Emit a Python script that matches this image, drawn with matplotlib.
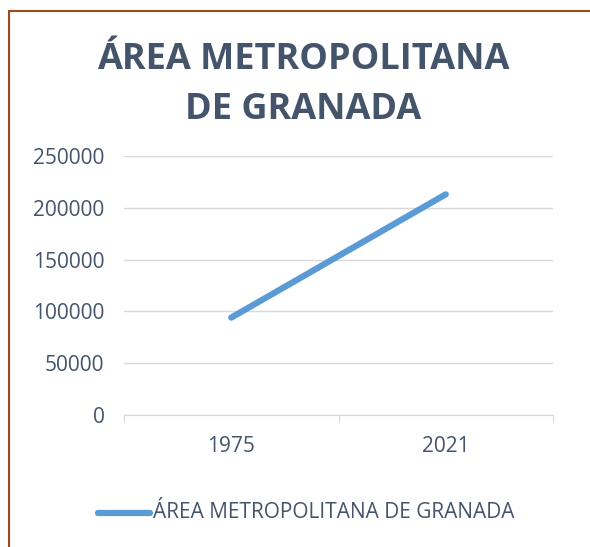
import matplotlib
matplotlib.use("Agg")
import matplotlib.pyplot as plt
from matplotlib.patches import Rectangle
from matplotlib.lines import Line2D

YEARS = ["1975", "2021"]
POPULATION = [94000, 213000]
SERIES_NAME = "ÁREA METROPOLITANA DE GRANADA"
TITLE = "ÁREA METROPOLITANA\nDE GRANADA"
Y_TICKS = [0, 50000, 100000, 150000, 200000, 250000]

TEXT_COLOR = "#44546A"

plt.rcParams["font.family"] = ["Open Sans", "DejaVu Sans"]

fig = plt.figure(figsize=(5.9, 5.47), dpi=100)
ax = fig.add_axes([124 / 590, 1 - 415 / 547, (553 - 124) / 590, (415 - 156) / 547])

x = [0.5, 1.5]
ax.plot(x, POPULATION, color="#5B9BD5", linewidth=4.5, solid_capstyle="round")

ax.set_xlim(0, 2)
ax.set_ylim(0, 250000)
ax.set_yticks(Y_TICKS)
ax.set_yticklabels([str(v) for v in Y_TICKS])
ax.yaxis.grid(True, color="#D9D9D9", linewidth=1)
ax.set_axisbelow(True)

# category axis: ticks on the boundaries, labels in the middle
ax.set_xticks([0, 1, 2])
ax.set_xticklabels([])
ax.set_xticks(x, minor=True)
ax.set_xticklabels(YEARS, minor=True)
ax.tick_params(axis="x", which="major", length=5, color="#D9D9D9", direction="out")
ax.tick_params(axis="x", which="minor", length=0, pad=15, labelsize=15, labelcolor=TEXT_COLOR)
ax.tick_params(axis="y", length=0, pad=14, labelsize=15, labelcolor=TEXT_COLOR)

for side in ["top", "right", "left"]:
    ax.spines[side].set_visible(False)
ax.spines["bottom"].set_color("#D9D9D9")

fig.text(303 / 590, 1 - 85 / 547, TITLE, ha="center", va="center",
         fontsize=26, fontweight="bold", color=TEXT_COLOR, linespacing=1.5)

# legend drawn by hand below the plot
leg_y = 1 - 513 / 547
fig.add_artist(Line2D([98 / 590, 150 / 590], [leg_y, leg_y], color="#5B9BD5",
                      linewidth=4.5, solid_capstyle="round"))
fig.text(153 / 590, leg_y, SERIES_NAME, ha="left", va="center",
         fontsize=15, color=TEXT_COLOR)

# chart-area border (right and bottom edges fall outside the image)
fig.add_artist(Rectangle((8.5 / 590, -0.1), 1.2, 1 - 10.5 / 547 + 0.1,
                         transform=fig.transFigure, fill=False,
                         edgecolor="#9C4A1A", linewidth=1.5))

fig.savefig("out.png", dpi=100)
